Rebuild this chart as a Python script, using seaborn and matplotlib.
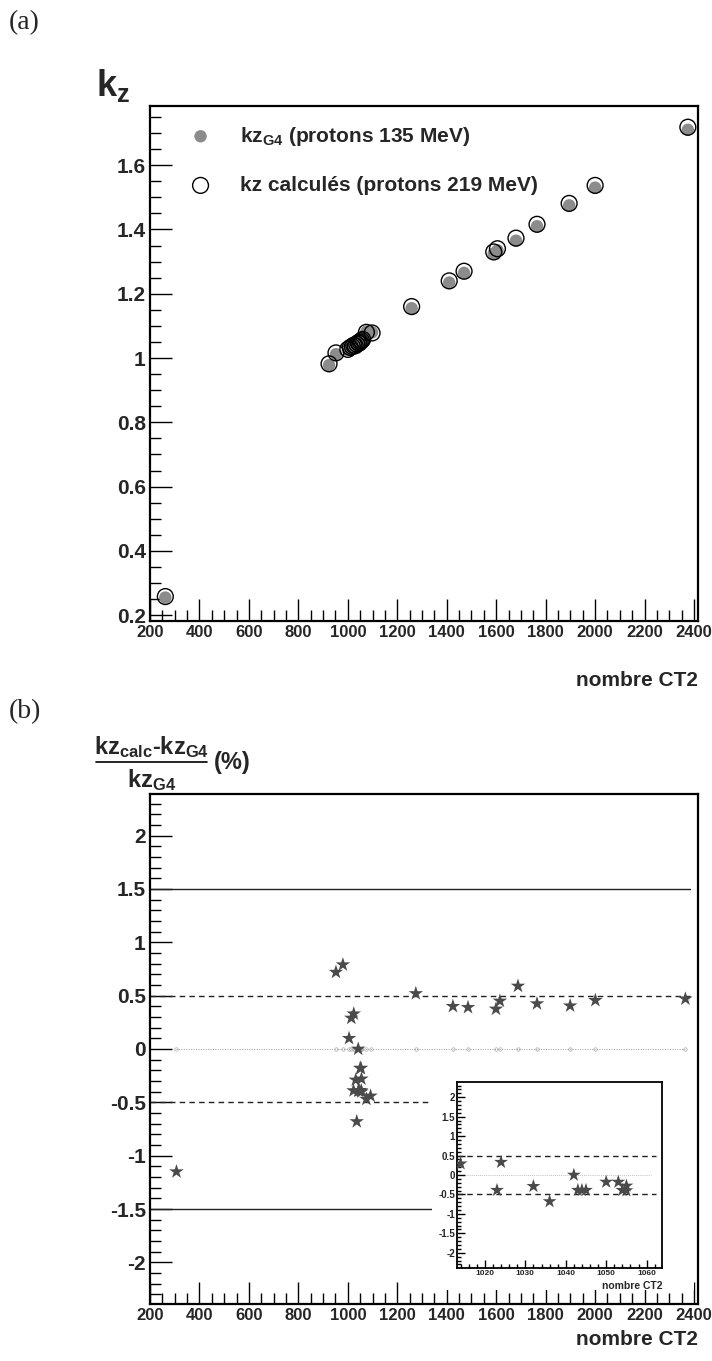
"""
plot.py - kz comparison: Geant4 vs computed values, and relative difference (%).
"""

import matplotlib

matplotlib.use("Agg")
import matplotlib.pyplot as plt
from matplotlib.lines import Line2D
from matplotlib.ticker import MultipleLocator
import numpy as np
import pandas as pd
import seaborn as sns


# ---- panel (a): kz vs CT number ----
ct_top = [262, 924, 952, 1000, 1010, 1018, 1024, 1030, 1036, 1042, 1045, 1050, 1055,
          1060, 1075, 1098, 1258, 1410, 1470, 1590, 1605, 1680, 1765, 1895, 2000, 2375]
kz_g4 = [0.255, 0.978, 1.012, 1.025, 1.030, 1.032, 1.036, 1.040, 1.045, 1.048, 1.050,
         1.052, 1.056, 1.060, 1.082, 1.080, 1.155, 1.235, 1.265, 1.325, 1.335, 1.365,
         1.410, 1.475, 1.530, 1.710]
kz_calc = [0.258, 0.982, 1.016, 1.027, 1.033, 1.036, 1.040, 1.038, 1.043, 1.048, 1.046,
           1.050, 1.054, 1.058, 1.080, 1.078, 1.160, 1.240, 1.270, 1.330, 1.340, 1.373,
           1.416, 1.481, 1.537, 1.718]

# ---- panel (b): relative difference (%) ----
ct_diff = [307, 952, 980, 1005, 1014, 1023, 1024, 1032, 1036, 1042, 1043, 1044, 1045,
           1050, 1053, 1054, 1055, 1055, 1075, 1092, 1275, 1425, 1486, 1599, 1615, 1688,
           1765, 1899, 2001, 2365]
diff_pct = [-1.15, 0.72, 0.79, 0.10, 0.29, -0.39, 0.33, -0.29, -0.68, 0.00, -0.39, -0.39,
            -0.39, -0.18, -0.18, -0.39, -0.28, -0.40, -0.47, -0.44, 0.52, 0.40, 0.39,
            0.375, 0.45, 0.59, 0.425, 0.405, 0.456, 0.47]

band_levels = [0.5, -0.5]
limit_levels = [1.5, -1.5]

GRAY_FILL = "#8c8c8c"
STAR_COLOR = "#4a4a4a"
W, H = 712, 1361


def frac_rect(left, top, right, bottom):
    """Pixel box -> figure fraction rect."""
    return [left / W, 1 - bottom / H, (right - left) / W, (bottom - top) / H]


def fx(px):
    return px / W


def fy(py):
    return 1 - py / H


def style_axis(ax, major_len=16, minor_len=8, xsize=12, ysize=15):
    for s in ax.spines.values():
        s.set_linewidth(1.6)
        s.set_color("black")
    ax.tick_params(which="both", direction="in", bottom=True, left=True,
                   top=False, right=False, color="black", width=1.0)
    ax.tick_params(which="major", length=major_len, pad=3)
    ax.tick_params(which="minor", length=minor_len)
    ax.tick_params(axis="x", labelsize=xsize)
    ax.tick_params(axis="y", labelsize=ysize)
    for lab in ax.get_xticklabels() + ax.get_yticklabels():
        lab.set_fontweight("bold")


sns.set_theme(style="white")
plt.rcParams["font.family"] = ["Liberation Sans", "DejaVu Sans"]
plt.rcParams["font.weight"] = "bold"
plt.rcParams["mathtext.fontset"] = "custom"
plt.rcParams["mathtext.rm"] = "Liberation Sans:bold"
plt.rcParams["mathtext.bf"] = "Liberation Sans:bold"
plt.rcParams["mathtext.it"] = "Liberation Sans:bold"

fig = plt.figure(figsize=(W / 100, H / 100), dpi=100)

# ================= panel (a) =================
top = pd.DataFrame({"ct": ct_top, "g4": kz_g4, "calc": kz_calc})
ax1 = fig.add_axes(frac_rect(150, 106, 698, 621))
sns.scatterplot(data=top, x="ct", y="g4", ax=ax1, s=80, color=GRAY_FILL,
                edgecolor="none", label=r"$\mathbf{kz_{G4}}$ (protons 135 MeV)", zorder=3)
sns.scatterplot(data=top, x="ct", y="calc", ax=ax1, s=130, facecolor="none",
                edgecolor="black", linewidth=1.0,
                label="kz calculés (protons 219 MeV)", zorder=4)
ax1.set_xlim(200, 2416)
ax1.set_ylim(0.182, 1.784)
ax1.xaxis.set_major_locator(MultipleLocator(200))
ax1.xaxis.set_minor_locator(MultipleLocator(50))
ax1.yaxis.set_minor_locator(MultipleLocator(0.05))
ax1.set_yticks(np.arange(0.2, 1.61, 0.2))
ax1.set_yticklabels(["0.2", "0.4", "0.6", "0.8", "1", "1.2", "1.4", "1.6"])
ax1.set_xlabel("nombre CT2", loc="right", fontsize=15, fontweight="bold", labelpad=22)
ax1.set_ylabel("")
style_axis(ax1)
leg = ax1.legend(loc="upper left", bbox_to_anchor=(0.02, 1.0), frameon=False,
                 fontsize=15, labelspacing=1.35, handletextpad=0.9, markerscale=1.0)
for t in leg.get_texts():
    t.set_fontweight("bold")

fig.text(fx(96), fy(86), r"$\mathbf{k_z}$", fontsize=26, ha="left", va="center")
fig.text(fx(9), fy(23), "(a)", fontsize=20, family="Liberation Serif",
         fontweight="normal", ha="left", va="center")

# ================= panel (b) =================
diff = pd.DataFrame({"ct": ct_diff, "d": diff_pct})
ax2 = fig.add_axes(frac_rect(150, 794, 698, 1304))
ax2.set_xlim(200, 2416)
ax2.set_ylim(-2.39, 2.39)
for lv in limit_levels:
    ax2.plot([200, 2385], [lv, lv], color="#222222", lw=1.0, ls="-", zorder=2)
for lv in band_levels:
    ax2.plot([200, 2385], [lv, lv], color="#222222", lw=1.0, ls=(0, (4, 3)), zorder=2)
zero = diff.sort_values("ct")
ax2.plot(zero["ct"], np.zeros(len(zero)), color="#999999", lw=0.7, ls=(0, (1, 1.5)),
         marker="o", ms=2.5, mfc="none", mec="#aaaaaa", mew=0.5, zorder=2)
sns.scatterplot(data=diff, x="ct", y="d", ax=ax2, marker="*", s=120, color=STAR_COLOR,
                edgecolor="none", zorder=3, legend=False)
ax2.xaxis.set_major_locator(MultipleLocator(200))
ax2.xaxis.set_minor_locator(MultipleLocator(50))
ax2.yaxis.set_minor_locator(MultipleLocator(0.1))
ax2.set_yticks([-2, -1.5, -1, -0.5, 0, 0.5, 1, 1.5, 2])
ax2.set_yticklabels(["-2", "-1.5", "-1", "-0.5", "0", "0.5", "1", "1.5", "2"])
ax2.set_xlabel("nombre CT2", loc="right", fontsize=15, fontweight="bold", labelpad=5)
ax2.set_ylabel("")
style_axis(ax2)

fig.text(fx(9), fy(712), "(b)", fontsize=20, family="Liberation Serif",
         fontweight="normal", ha="left", va="center")

# y title drawn as a stacked fraction: (kz_calc - kz_G4) / kz_G4 (%)
fig.text(fx(151.5), fy(754), r"$\mathbf{kz_{calc}}$-$\mathbf{kz_{G4}}$",
         fontsize=17, ha="center", va="baseline")
fig.add_artist(Line2D([fx(96), fx(207)], [fy(762.5), fy(762.5)],
                      color="black", lw=1.2))
fig.text(fx(151.5), fy(787), r"$\mathbf{kz_{G4}}$", fontsize=17,
         ha="center", va="baseline")
fig.text(fx(214), fy(763), "(%)", fontsize=17, ha="left", va="center")

# ---- inset (zoom around CT 1013-1064) ----
pad = fig.add_axes(frac_rect(432, 1060, 694, 1290))
pad.set_xticks([])
pad.set_yticks([])
for s in pad.spines.values():
    s.set_visible(False)
pad.set_facecolor("white")
pad.set_zorder(5)

ax3 = fig.add_axes(frac_rect(457, 1082, 662, 1268))
ax3.set_zorder(6)
ax3.set_xlim(1013.1, 1063.8)
ax3.set_ylim(-2.39, 2.39)
for lv in band_levels:
    ax3.plot([1013.1, 1062.2], [lv, lv], color="#222222", lw=1.0, ls=(0, (4, 3)), zorder=2)
ax3.plot([1015, 1061], [0, 0], color="#aaaaaa", lw=0.6, ls=(0, (1, 1.5)), zorder=2)
sns.scatterplot(data=diff, x="ct", y="d", ax=ax3, marker="*", s=110, color=STAR_COLOR,
                edgecolor="none", zorder=3, legend=False)
ax3.xaxis.set_major_locator(MultipleLocator(10))
ax3.xaxis.set_minor_locator(MultipleLocator(2))
ax3.yaxis.set_minor_locator(MultipleLocator(0.1))
ax3.set_yticks([-2, -1.5, -1, -0.5, 0, 0.5, 1, 1.5, 2])
ax3.set_yticklabels(["-2", "-1.5", "-1", "-0.5", "0", "0.5", "1", "1.5", "2"])
ax3.set_xlabel("nombre CT2", loc="right", fontsize=7.5, fontweight="bold", labelpad=3)
ax3.set_ylabel("")
style_axis(ax3, major_len=6, minor_len=3, xsize=6, ysize=7)
for s in ax3.spines.values():
    s.set_linewidth(1.3)
ax3.tick_params(pad=1.5)

fig.savefig("out.png", dpi=100)
